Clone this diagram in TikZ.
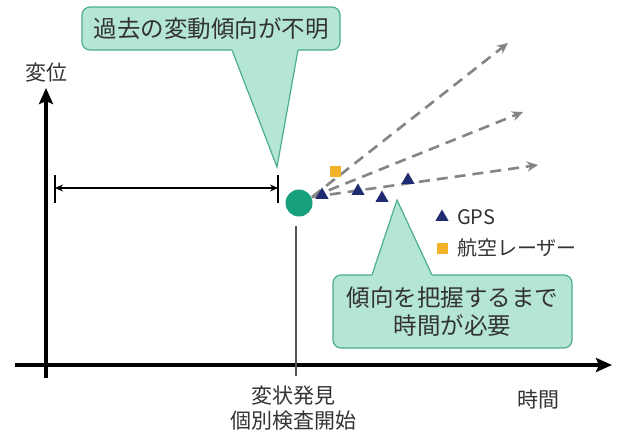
\documentclass[tikz,border=0pt]{standalone}
\usepackage{fontspec}
\setmainfont{Noto Sans CJK JP}
\usetikzlibrary{arrows.meta,shapes.geometric}
\definecolor{cfill}{HTML}{B5E5D6}
\definecolor{cdraw}{HTML}{4CAF8A}
\definecolor{dotc}{HTML}{17A07C}
\definecolor{navy}{HTML}{1F2A70}
\definecolor{orng}{HTML}{F2B22A}
\definecolor{dashc}{HTML}{858585}
\definecolor{txt}{HTML}{333333}
\definecolor{vline}{HTML}{555555}
\tikzset{
 calloutbox/.style={draw=cdraw, fill=cfill, line width=1.2pt, rounded corners=8pt, align=center, text=txt, inner sep=0pt, font=\fontsize{23.5}{28}\selectfont},
 pointerfill/.style={fill=cfill},
 pointerline/.style={draw=cdraw, line width=1.2pt, line join=miter},
 axisline/.style={line width=3.5pt, -{Stealth[length=16pt,width=14pt,inset=3pt]}},
 lbl/.style={text=txt, font=\fontsize{21}{25}\selectfont, align=center, inner sep=0pt},
 leglbl/.style={text=txt, font=\fontsize{20}{24}\selectfont, anchor=west, inner sep=0pt},
 gpsmark/.style={regular polygon, regular polygon sides=3, fill=navy, minimum size=15pt, inner sep=0pt},
 lasermark/.style={rectangle, fill=orng, minimum size=11pt, inner sep=0pt},
 trend/.style={dashc, line width=2.6pt, dash pattern=on 11pt off 7pt, -{Stealth[length=11pt,width=10pt]}},
 dimline/.style={line width=1.5pt, {Stealth[length=8pt,width=7pt]}-{Stealth[length=8pt,width=7pt]}},
 dimbar/.style={line width=1.5pt},
}
\begin{document}
\begin{tikzpicture}[x=1pt,y=-1pt]
\useasboundingbox (0,0) rectangle (620,434);
\fill[white] (0,0) rectangle (620,434);

% axes
\coordinate (yo) at (46,378);
\coordinate (yt) at (46,88);
\coordinate (xo) at (15,365);
\coordinate (xt) at (612,365);
\draw[axisline] (yo) -- (yt);
\draw[axisline] (xo) -- (xt);
\node[lbl] (ylab) at (46.5,73) {変位};
\node[lbl] (xlab) at (538,400) {時間};
\node[lbl] (evt) at (293,408) {変状発見\\個別検査開始};

% discovery line and point
\coordinate (vt) at (296,226);
\coordinate (vb) at (296,376);
\draw[vline, line width=2pt] (vt) -- (vb);
\node[circle, fill=dotc, minimum size=27pt, inner sep=0pt] (obs) at (299,203) {};

% dimension arrow
\coordinate (d1) at (55,188);
\coordinate (d2) at (278,188);
\coordinate (d1a) at (55,175);
\coordinate (d1b) at (55,203);
\coordinate (d2a) at (278,175);
\coordinate (d2b) at (278,203);
\draw[dimline] (d1) -- (d2);
\draw[dimbar] (d1a) -- (d1b);
\draw[dimbar] (d2a) -- (d2b);

% trend arrows
\coordinate (ts) at (312,197);
\coordinate (te1) at (508,43);
\coordinate (te2) at (523,112);
\coordinate (te3) at (538,165);
\draw[trend] (ts) -- (te1);
\draw[trend] (ts) -- (te2);
\draw[trend] (ts) -- (te3);

% markers
\node[gpsmark] (g1) at (322,195) {};
\node[gpsmark] (g2) at (358,191) {};
\node[gpsmark] (g3) at (382,198) {};
\node[gpsmark] (g4) at (408,180) {};
\node[lasermark] (s1) at (335,171) {};

% legend
\node[gpsmark] (lg) at (442,217) {};
\node[leglbl] (lgt) at (457,217) {GPS};
\node[lasermark] (ls) at (442,248) {};
\node[leglbl] (lst) at (457,248) {航空レーザー};

% callout 1
\node[calloutbox, minimum width=258pt, minimum height=43pt] (c1) at (211,28.5) {過去の変動傾向が不明};
\coordinate (t1) at (277,167);
\fill[pointerfill] (231.5,48.6) -- (t1) -- (298.25,48.6) -- cycle;
\draw[pointerline] (232,50) -- (t1) -- (298,50);

% callout 2
\node[calloutbox, minimum width=239pt, minimum height=73pt] (c2) at (452.5,311.5) {傾向を把握するまで\\時間が必要};
\coordinate (t2) at (397,200);
\fill[pointerfill] (371.5,276.4) -- (t2) -- (432.65,276.4) -- cycle;
\draw[pointerline] (372,275) -- (t2) -- (432,275);
\end{tikzpicture}
\end{document}
